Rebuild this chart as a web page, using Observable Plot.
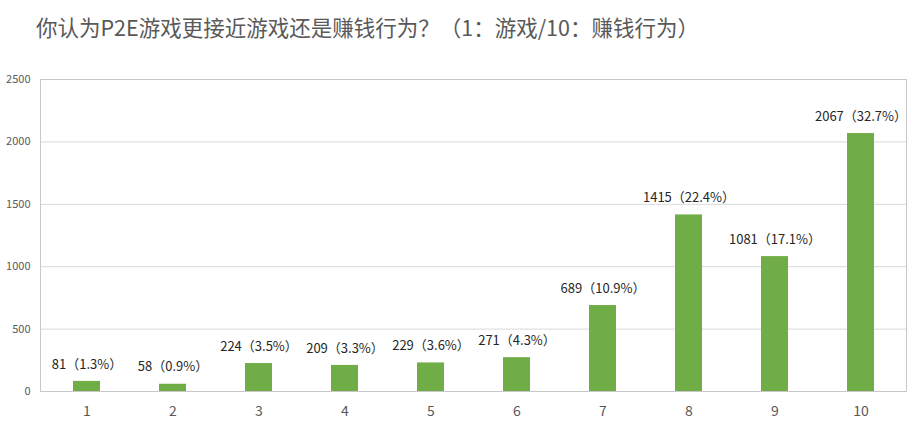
<!DOCTYPE html>
<html>
<head>
<meta charset="utf-8">
<script src="https://cdn.jsdelivr.net/npm/d3@7"></script>
<script src="https://cdn.jsdelivr.net/npm/@observablehq/plot@0.6"></script>
<style>
  html, body { margin: 0; padding: 0; background: #fff; }
  body { width: 916px; height: 427px; overflow: hidden; font-family: "Noto Sans CJK SC", "Noto Sans", sans-serif; }
  #title { height: 55px; box-sizing: border-box; padding: 12px 0 0 36px; font-size: 21.5px; color: #595959; line-height: 30px; white-space: nowrap; }
  #chart svg { display: block; }
</style>
</head>
<body>
<div id="title"></div>
<div id="chart"></div>
<script>
const titleText = "你认为P2E游戏更接近游戏还是赚钱行为？（1：游戏/10：赚钱行为）";
const categories = ["1", "2", "3", "4", "5", "6", "7", "8", "9", "10"];
const counts = [81, 58, 224, 209, 229, 271, 689, 1415, 1081, 2067];
const percents = ["1.3%", "0.9%", "3.5%", "3.3%", "3.6%", "4.3%", "10.9%", "22.4%", "17.1%", "32.7%"];
const yTicks = [0, 500, 1000, 1500, 2000, 2500];

document.getElementById("title").textContent = titleText;

const data = categories.map((c, i) => ({
  cat: c,
  count: counts[i],
  label: `${counts[i]}（${percents[i]}）`
}));

const chart = Plot.plot({
  width: 916,
  height: 372,
  marginLeft: 40,
  marginRight: 10,
  marginTop: 24,
  marginBottom: 36,
  style: { fontFamily: "'Noto Sans CJK SC', 'Noto Sans', sans-serif", background: "#fff", overflow: "visible" },
  x: { domain: categories, paddingInner: 0.69, paddingOuter: 0.345, label: null },
  y: { domain: [0, 2500], label: null },
  marks: [
    Plot.ruleY(yTicks, { stroke: "#d9d9d9", strokeWidth: 1 }),
    Plot.frame({ stroke: "#c8c8c8" }),
    Plot.barY(data, { x: "cat", y: "count", fill: "#70ad47" }),
    Plot.text(data, { x: "cat", y: "count", text: "label", dy: -17, fontSize: 13, fill: "#262626" }),
    Plot.axisY({ ticks: yTicks, tickFormat: d => String(d), tickSize: 0, tickPadding: 10, fontSize: 11, color: "#595959", label: null }),
    Plot.axisX({ tickSize: 0, tickPadding: 15, fontSize: 14, color: "#595959", label: null })
  ]
});
document.getElementById("chart").appendChild(chart);
</script>
</body>
</html>
